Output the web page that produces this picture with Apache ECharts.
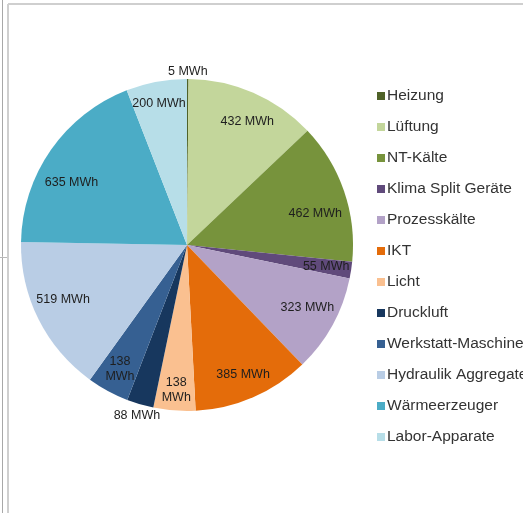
<!DOCTYPE html>
<html>
<head>
<meta charset="utf-8">
<script src="https://cdn.jsdelivr.net/npm/echarts@6/dist/echarts.min.js"></script>
<style>
html,body{margin:0;padding:0;background:#fff;}
#chart{width:523px;height:513px;}
</style>
</head>
<body>
<div id="chart"></div>
<script>
// Data
var categories = ['Heizung','Lüftung','NT-Kälte','Klima Split Geräte','Prozesskälte','IKT','Licht','Druckluft','Werkstatt-Maschinen','Hydraulik Aggregate','Wärmeerzeuger','Labor-Apparate'];
var values = [5, 432, 462, 55, 323, 385, 138, 88, 138, 519, 635, 200];
var unit = 'MWh';
var colors = ['#4f6228','#c3d69b','#77933c','#604a7b','#b3a2c7','#e46c0a','#fac090','#17375e','#366092','#b9cde5','#4bacc6','#b7dee8'];
var outerLabelCats = ['Heizung','Druckluft'];
var wrappedLabelCats = ['Licht','Werkstatt-Maschinen'];

// Layout / style (label nudges to mimic the original best-fit placement)
var labelNudge = {
  'Heizung':[0,4], 'Lüftung':[4,6], 'NT-Kälte':[-5,14], 'Prozesskälte':[-3,-5],
  'Licht':[0,5], 'Hydraulik Aggregate':[2,-8], 'Wärmeerzeuger':[0,18], 'Labor-Apparate':[-2,-3]
};
var FONT = '"Liberation Sans", Arial, sans-serif';
var center = [187, 245];
var R = 166;

function fmt(p){
  return wrappedLabelCats.indexOf(p.name) >= 0 ? p.value + '\n' + unit : p.value + ' ' + unit;
}

var mainData = categories.map(function(c,i){ return {name:c, value:values[i], itemStyle:{color:colors[i]}}; });
function labelData(showOuter){
  return categories.map(function(c,i){
    var isOuter = outerLabelCats.indexOf(c) >= 0;
    return {name:c, value:values[i], label:{show: showOuter ? isOuter : !isOuter}};
  });
}
var labelStyle = {position:'inside', formatter: fmt, color:'#1e1e1e', fontSize:12.5, fontFamily:FONT, lineHeight:15};
function nudge(params){
  var n = labelNudge[categories[params.dataIndex]];
  return n ? {dx:n[0], dy:n[1]} : {};
}

var chart = echarts.init(document.getElementById('chart'), null, {renderer:'canvas'});
chart.setOption({
  animation:false,
  backgroundColor:'#ffffff',
  legend:{
    orient:'vertical', left:372, top:83,
    icon:'rect', itemWidth:8, itemHeight:8, itemGap:15,
    data: categories,
    textStyle:{fontFamily:FONT, fontSize:15.5, color:'#333333', lineHeight:16, padding:[0,0,0,-3]}
  },
  graphic:[
    {type:'line', shape:{x1:2.5,y1:0,x2:2.5,y2:513}, style:{stroke:'#a8a8a8', lineWidth:1}, silent:true},
    {type:'line', shape:{x1:0,y1:257.5,x2:7,y2:257.5}, style:{stroke:'#b8b8b8', lineWidth:1}, silent:true},
    {type:'line', shape:{x1:8,y1:4,x2:8,y2:513}, style:{stroke:'#cfcfcf', lineWidth:2}, silent:true},
    {type:'line', shape:{x1:8,y1:4,x2:523,y2:4}, style:{stroke:'#cfcfcf', lineWidth:2}, silent:true}
  ],
  series:[
    {
      type:'pie', center:center, radius:[0,R], startAngle:90, clockwise:true,
      data: mainData, label:{show:false}, labelLine:{show:false},
      itemStyle:{borderWidth:0}, emphasis:{disabled:true}
    },
    {
      type:'pie', center:center, radius:[0,R*1.66], startAngle:90, clockwise:true, silent:true,
      data: labelData(false), itemStyle:{color:'rgba(0,0,0,0)'}, label:labelStyle, labelLine:{show:false},
      labelLayout: nudge, emphasis:{disabled:true}, z:5
    },
    {
      type:'pie', center:center, radius:[0,R*2.1], startAngle:90, clockwise:true, silent:true,
      data: labelData(true), itemStyle:{color:'rgba(0,0,0,0)'}, label:labelStyle, labelLine:{show:false},
      labelLayout: nudge, emphasis:{disabled:true}, z:5
    }
  ]
});
</script>
</body>
</html>
